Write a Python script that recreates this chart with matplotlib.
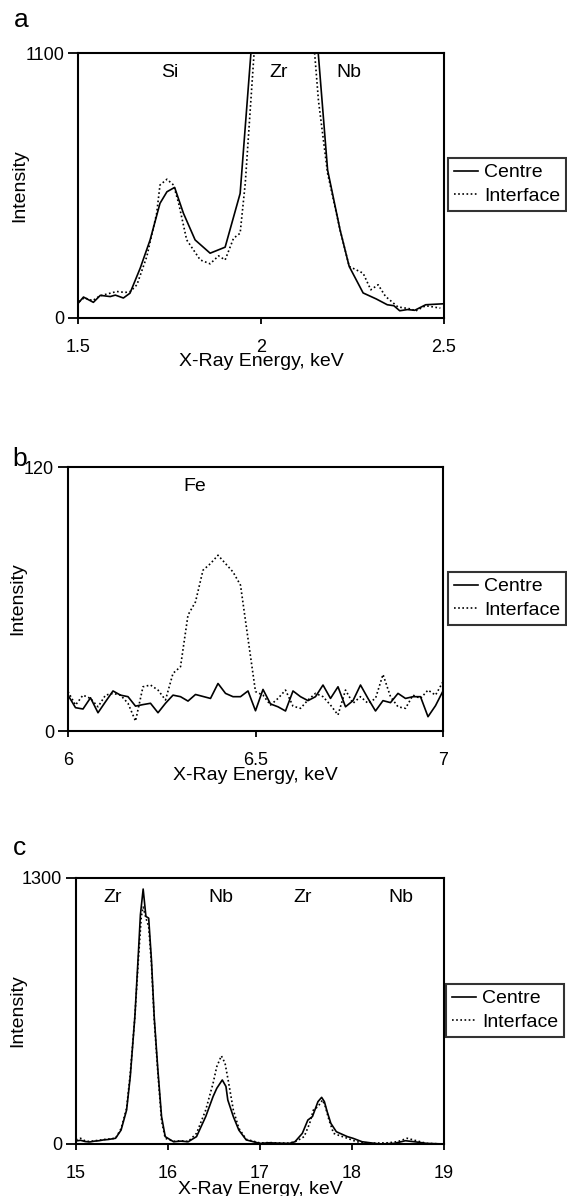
import matplotlib
matplotlib.use("Agg")
import matplotlib.pyplot as plt

plt.rcParams['font.family'] = ['Liberation Sans', 'DejaVu Sans']

# ---------------- Panel a data ----------------
a_centre_x = [1.501, 1.515, 1.542, 1.561, 1.588, 1.602, 1.624, 1.642, 1.670, 1.697,
              1.724, 1.743, 1.764, 1.788, 1.820, 1.861, 1.902, 1.943, 1.975, 2.00,
              2.05, 2.10, 2.13, 2.182, 2.216, 2.241, 2.279, 2.315, 2.345, 2.363,
              2.379, 2.40, 2.42, 2.45, 2.498]
a_centre_y = [62, 87, 65, 94, 89, 95, 83, 103, 207, 324,
              476, 524, 542, 435, 324, 269, 294, 517, 1150, 2500,
              5000, 3500, 1600, 614, 366, 214, 104, 79, 55, 51,
              30, 35, 32, 55, 59]

a_inter_x = [1.503, 1.517, 1.540, 1.560, 1.588, 1.606, 1.629, 1.643, 1.661, 1.688,
             1.715, 1.724, 1.743, 1.761, 1.775, 1.797, 1.834, 1.861, 1.884, 1.902,
             1.925, 1.943, 1.957, 1.990, 2.05, 2.12, 2.157, 2.182, 2.216, 2.241,
             2.279, 2.300, 2.320, 2.340, 2.374, 2.412, 2.421, 2.450, 2.490]
a_inter_y = [68, 84, 72, 92, 103, 110, 106, 110, 138, 255,
             435, 552, 576, 552, 476, 324, 241, 225, 258, 241,
             331, 352, 559, 1300, 4000, 1600, 902, 600, 366, 214,
             186, 117, 138, 90, 46, 37, 28, 51, 41]

# ---------------- Panel b data ----------------
b_x = [6.00, 6.02, 6.04, 6.06, 6.08, 6.10, 6.12, 6.14, 6.16, 6.18,
       6.20, 6.22, 6.24, 6.26, 6.28, 6.30, 6.32, 6.34, 6.36, 6.38,
       6.40, 6.42, 6.44, 6.46, 6.48, 6.50, 6.52, 6.54, 6.56, 6.58,
       6.60, 6.62, 6.64, 6.66, 6.68, 6.70, 6.72, 6.74, 6.76, 6.78,
       6.80, 6.82, 6.84, 6.86, 6.88, 6.90, 6.92, 6.94, 6.96, 6.98, 7.00]
b_centre = [16.3, 10.6, 10.0, 15.1, 8.3, 13.3, 18.2, 16.3, 15.6, 11.3,
            12.0, 12.6, 8.3, 12.6, 16.3, 15.6, 13.6, 16.6, 15.7, 14.8,
            21.6, 17.1, 15.6, 15.6, 18.2, 9.2, 18.9, 12.3, 11.0, 9.1,
            18.2, 15.6, 13.8, 15.6, 20.9, 14.8, 20.1, 11.0, 13.8, 20.9,
            14.8, 9.1, 13.8, 12.9, 17.1, 14.8, 15.6, 15.6, 6.5, 11.5, 18.2]
b_inter = [17.9, 11.8, 16.3, 14.8, 11.0, 16.3, 17.1, 16.3, 12.6, 4.5,
           20.1, 20.9, 18.6, 14.1, 26.2, 29.2, 52.7, 58.7, 73.1, 76.1,
           79.9, 76.1, 72.3, 66.3, 42.0, 17.9, 16.3, 11.8, 14.8, 18.6,
           11.3, 10.3, 14.1, 17.1, 15.6, 11.8, 7.3, 18.6, 12.6, 15.6,
           12.6, 14.8, 25.7, 15.6, 11.0, 10.3, 16.3, 14.8, 18.6, 16.3, 22.4]

# ---------------- Panel c data ----------------
c_centre_x = [15.0, 15.05, 15.1, 15.15, 15.2, 15.25, 15.3, 15.35, 15.43, 15.49,
              15.55, 15.59, 15.64, 15.68, 15.70, 15.73, 15.76, 15.79, 15.82, 15.85,
              15.89, 15.93, 15.97, 16.06, 16.14, 16.22, 16.31, 16.41, 16.49, 16.53,
              16.59, 16.63, 16.65, 16.71, 16.77, 16.85, 17.0, 17.1, 17.2, 17.32,
              17.38, 17.46, 17.52, 17.57, 17.63, 17.67, 17.70, 17.73, 17.77, 17.83,
              17.95, 18.01, 18.11, 18.30, 18.46, 18.58, 18.68, 18.81, 19.0]
c_centre_y = [15, 18, 12, 10, 14, 16, 20, 22, 28, 68,
              166, 330, 623, 949, 1120, 1246, 1112, 1104, 900, 623,
              362, 134, 36, 11, 14, 11, 36, 134, 232, 272,
              313, 281, 215, 134, 68, 20, 3, 6, 4, 3,
              11, 52, 117, 134, 207, 228, 207, 158, 101, 60,
              36, 28, 11, 0, 3, 16, 11, 3, 0]
c_inter_x = [15.0, 15.05, 15.1, 15.15, 15.2, 15.25, 15.3, 15.35, 15.43, 15.49,
             15.55, 15.59, 15.64, 15.68, 15.71, 15.73, 15.76, 15.79, 15.82, 15.85,
             15.89, 15.93, 15.97, 16.06, 16.14, 16.22, 16.31, 16.41, 16.49, 16.53,
             16.58, 16.62, 16.66, 16.71, 16.77, 16.85, 17.0, 17.1, 17.2, 17.32,
             17.40, 17.48, 17.54, 17.58, 17.63, 17.68, 17.71, 17.75, 17.80, 17.87,
             17.95, 18.05, 18.2, 18.4, 18.5, 18.6, 18.7, 18.81, 19.0]
c_inter_y = [20, 28, 15, 12, 16, 18, 22, 24, 28, 75,
             175, 345, 623, 915, 1112, 1158, 1104, 1063, 880, 607,
             346, 113, 28, 13, 16, 12, 52, 166, 297, 378,
             431, 395, 297, 166, 77, 23, 5, 7, 5, 4,
             15, 36, 101, 166, 183, 215, 183, 117, 52, 40,
             28, 11, 4, 6, 12, 28, 16, 3, 0]

series_names = ["Centre", "Interface"]
xlabel = "X-Ray Energy, keV"
ylabel = "Intensity"

W, H = 567, 1196
fig = plt.figure(figsize=(W / 100, H / 100), dpi=100)


def axes_px(left, top, right, bottom):
    return fig.add_axes([left / W, 1 - bottom / H, (right - left) / W, (bottom - top) / H])


panels = [
    dict(box=(78, 53, 444, 318), xlim=(1.5, 2.5), xticks=[1.5, 2, 2.5], xtl=["1.5", "2", "2.5"],
         ylim=(0, 1100), ytl=["0", "1100"],
         data=(a_centre_x, a_centre_y, a_inter_x, a_inter_y),
         peaks=[("Si", 0.252), ("Zr", 0.547), ("Nb", 0.741)], letter=("a", 21, 20),
         leg=(448, 158), ylab_x=20, xlab_y=362),
    dict(box=(68, 467, 443, 731), xlim=(6, 7), xticks=[6, 6.5, 7], xtl=["6", "6.5", "7"],
         ylim=(0, 120), ytl=["0", "120"],
         data=(b_x, b_centre, b_x, b_inter),
         peaks=[("Fe", 0.339)], letter=("b", 20, 459),
         leg=(448, 572), ylab_x=18, xlab_y=775),
    dict(box=(76, 878, 444, 1144), xlim=(15, 19), xticks=[15, 16, 17, 18, 19],
         xtl=["15", "16", "17", "18", "19"],
         ylim=(0, 1300), ytl=["0", "1300"],
         data=(c_centre_x, c_centre_y, c_inter_x, c_inter_y),
         peaks=[("Zr", 0.100), ("Nb", 0.394), ("Zr", 0.617), ("Nb", 0.884)], letter=("c", 20, 848),
         leg=(446, 984), ylab_x=18, xlab_y=1189),
]

for p in panels:
    ax = axes_px(*p["box"])
    left, top, right, bottom = p["box"]
    cx, cy, ix, iy = p["data"]
    ax.plot(cx, cy, color="black", lw=1.2, ls="-", label=series_names[0])
    ax.plot(ix, iy, color="black", lw=1.2, ls=(0, (1, 1.5)), label=series_names[1])
    ax.set_xlim(*p["xlim"])
    ax.set_ylim(*p["ylim"])
    ax.set_xticks(p["xticks"])
    ax.set_xticklabels(p["xtl"])
    ax.set_yticks(list(p["ylim"]))
    ax.set_yticklabels(p["ytl"])
    ax.tick_params(axis="x", direction="out", length=4, width=1.3, labelsize=13, pad=11)
    ax.tick_params(axis="y", direction="out", length=7, width=1.3, labelsize=13, pad=3)
    for s in ax.spines.values():
        s.set_linewidth(1.5)
    ax.set_xlabel(xlabel, fontsize=14)
    ax.xaxis.set_label_coords(0.5, (bottom - p["xlab_y"]) / (bottom - top))
    ax.xaxis.label.set_verticalalignment("center")
    ax.set_ylabel(ylabel, fontsize=14)
    ax.yaxis.set_label_coords((p["ylab_x"] - left) / (right - left), 0.5)
    ax.yaxis.label.set_verticalalignment("center")
    for name, fx in p["peaks"]:
        ax.text(fx, 0.925, name, transform=ax.transAxes, ha="center", va="center", fontsize=14)
    ltxt, lxp, lyp = p["letter"]
    fig.text(lxp / W, 1 - lyp / H, ltxt, fontsize=19, ha="center", va="center")
    lx, ly = p["leg"]
    leg = ax.legend(loc="upper left", bbox_to_anchor=(lx / W, 1 - ly / H),
                    bbox_transform=fig.transFigure, borderaxespad=0, frameon=True,
                    fancybox=False, edgecolor="black", fontsize=14, handlelength=1.25,
                    handletextpad=0.3, borderpad=0.3, labelspacing=0.3)
    leg.get_frame().set_linewidth(1.5)

fig.savefig("out.png", dpi=100)
